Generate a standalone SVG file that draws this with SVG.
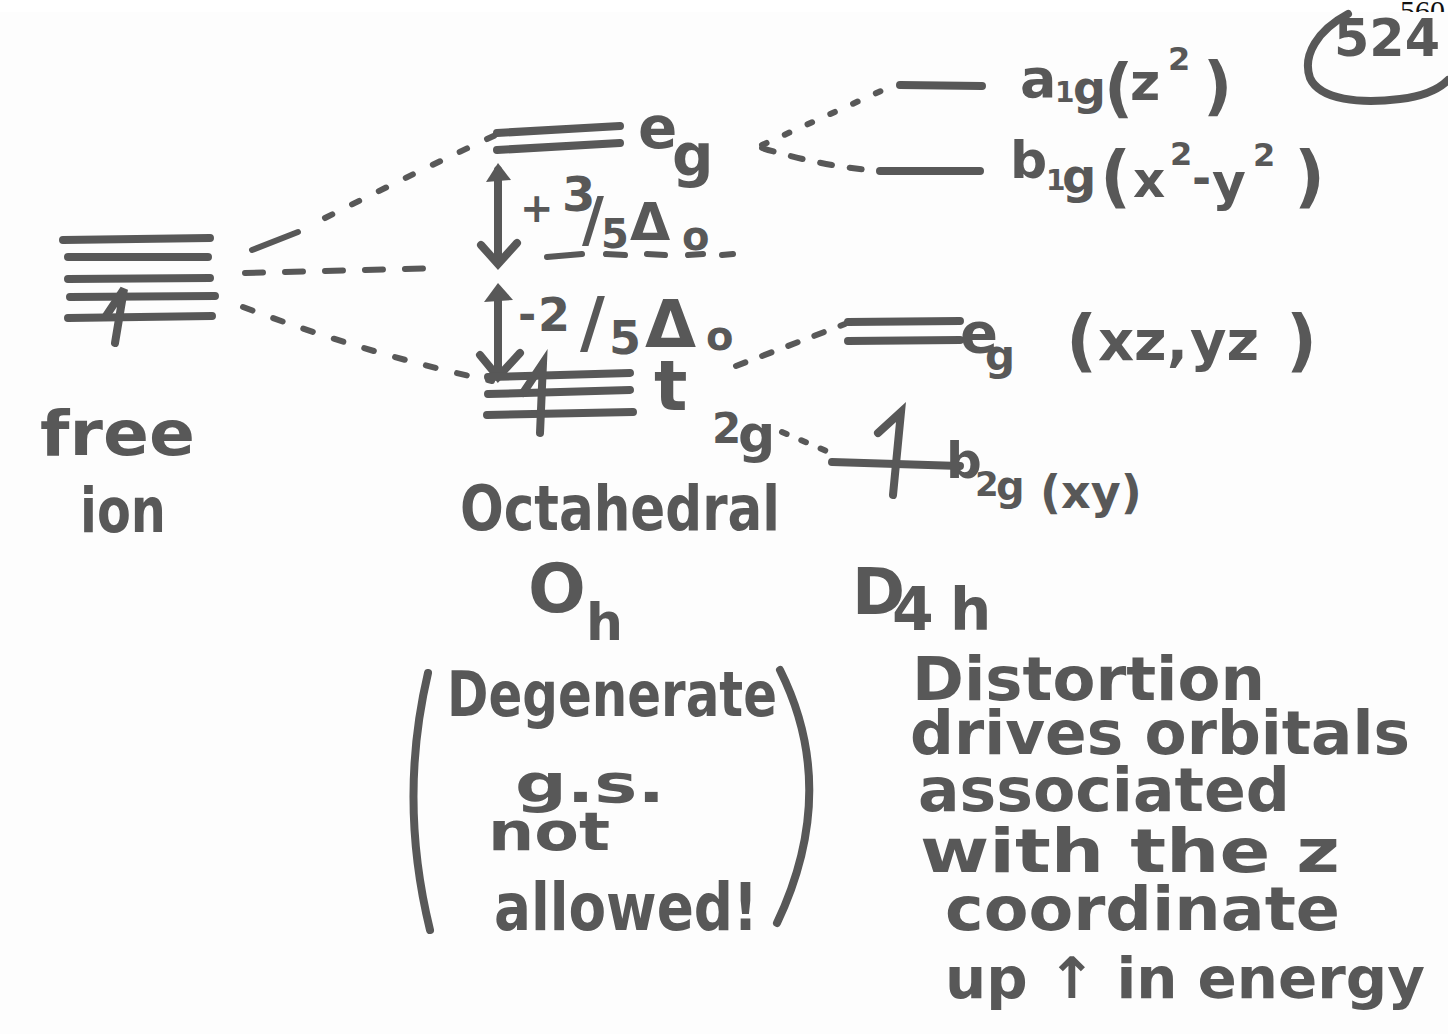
<svg xmlns="http://www.w3.org/2000/svg" width="1448" height="1034" viewBox="0 0 1448 1034">
<style>
.t{fill:#585858;font-family:"DejaVu Sans","Liberation Sans",sans-serif;font-weight:bold}
.ln{stroke:#585858;stroke-width:8;stroke-linecap:round;fill:none}
.hd{fill:#585858}
.dl{stroke:#585858;stroke-width:6;stroke-linecap:round;fill:none}
</style>
<defs>
<clipPath id="topclip"><rect x="0" y="0" width="1448" height="12"/></clipPath>
</defs>
<rect width="1448" height="1034" fill="#ffffff"/>
<text x="1400" y="21" clip-path="url(#topclip)" font-family="Liberation Serif, serif" font-size="30" fill="#111">560</text>
<rect x="0" y="12" width="1448" height="1022" fill="#fdfdfd"/>

<g id="page-number">
<path class="ln" d="M1348,14 C1318,30 1302,55 1310,78 C1320,100 1360,104 1400,99 C1425,96 1440,88 1448,80"/>
<text class="t" x="1334" y="56" font-size="52" textLength="106" lengthAdjust="spacingAndGlyphs">524</text>
</g>

<g id="connectors">
<path class="dl" d="M252,250 L298,232" />
<path class="dl" d="M325,218 Q420,170 500,133" stroke-dasharray="8 22"/>
<path class="dl" d="M245,273 L440,268" stroke-dasharray="18 22"/>
<path class="dl" d="M243,307 Q370,355 492,381" stroke-dasharray="10 22"/>
<path class="dl" d="M762,145 L892,86" stroke-dasharray="5 20"/>
<path class="dl" d="M762,148 Q820,166 878,171" stroke-dasharray="12 18"/>
<path class="dl" d="M736,366 L845,324" stroke-dasharray="10 18"/>
<path class="dl" d="M782,432 L838,456" stroke-dasharray="5 16"/>
</g>

<g id="free-ion">
<path class="ln" d="M63,240 L210,238 M68,257 L208,257 M68,279 L210,278 M70,297 L215,296 M68,318 L212,316"/>
<path class="ln" d="M106,316 L124,289 L115,343"/>
<text class="t" x="40" y="455" font-size="62" textLength="155" lengthAdjust="spacingAndGlyphs">free</text>
<text class="t" x="80" y="532" font-size="62" textLength="86" lengthAdjust="spacingAndGlyphs">ion</text>
</g>

<g id="octahedral">
<path class="ln" d="M497,133 L620,126 M497,150 L620,143"/>
<text class="t" font-size="58"><tspan x="638" y="148">e</tspan><tspan x="672" y="176" font-size="58">g</tspan></text>
<path class="ln" d="M498,170 L498,262 M481,245 L498,264 L517,243"/>
<path class="hd" d="M486,182 L498,163 L511,180 Z"/>
<path class="dl" d="M547,257 L582,254 M606,254 L625,255 M647,254 L665,255 M688,255 L703,254 M722,255 L733,254"/>
<text class="t"><tspan x="520" y="222" font-size="40">+</tspan><tspan x="562" y="211" font-size="48">3</tspan><tspan x="582" y="240" font-size="60">/</tspan><tspan x="601" y="248" font-size="40">5</tspan><tspan x="630" y="240" font-size="52">Δ</tspan><tspan x="682" y="250" font-size="40">o</tspan></text>
<path class="ln" d="M498,292 L498,372 M480,355 L498,377 L520,353"/>
<path class="hd" d="M484,302 L498,283 L513,300 Z"/>
<text class="t"><tspan x="518" y="330" font-size="44">-</tspan><tspan x="538" y="331" font-size="46">2</tspan><tspan x="580" y="346" font-size="68">/</tspan><tspan x="609" y="354" font-size="46">5</tspan><tspan x="645" y="347" font-size="66">Δ</tspan><tspan x="706" y="350" font-size="40">o</tspan></text>
<path class="ln" d="M488,377 L630,373 M488,394 L630,390 M487,415 L633,412"/>
<path class="ln" d="M523,393 L543,363 L540,433"/>
<text class="t"><tspan x="654" y="410" font-size="70">t</tspan><tspan x="712" y="443" font-size="42">2</tspan><tspan x="738" y="452" font-size="52">g</tspan></text>
<text class="t" x="460" y="530" font-size="62" textLength="320" lengthAdjust="spacingAndGlyphs">Octahedral</text>
<text class="t"><tspan x="528" y="612" font-size="68">O</tspan><tspan x="586" y="640" font-size="52">h</tspan></text>
<path class="ln" d="M428,673 Q398,800 430,930"/>
<path class="ln" d="M780,670 Q840,790 777,923"/>
<text class="t" x="447" y="716" font-size="62" textLength="330" lengthAdjust="spacingAndGlyphs">Degenerate</text>
<text class="t" x="515" y="802" font-size="54" textLength="150" lengthAdjust="spacingAndGlyphs">g.s.</text>
<text class="t" x="488" y="850" font-size="54" textLength="122" lengthAdjust="spacingAndGlyphs">not</text>
<text class="t" x="494" y="930" font-size="66" textLength="264" lengthAdjust="spacingAndGlyphs">allowed!</text>
</g>

<g id="d4h">
<path class="ln" d="M900,85 L982,86"/>
<text class="t"><tspan x="1020" y="97" font-size="54">a</tspan><tspan x="1055" y="102" font-size="28">1</tspan><tspan x="1073" y="104" font-size="46">g</tspan><tspan x="1104" y="110" font-size="64">(</tspan><tspan x="1130" y="100" font-size="52">z</tspan><tspan x="1168" y="70" font-size="32">2</tspan><tspan x="1203" y="108" font-size="64">)</tspan></text>
<path class="ln" d="M880,171 L980,171"/>
<text class="t"><tspan x="1010" y="178" font-size="52">b</tspan><tspan x="1046" y="190" font-size="28">1</tspan><tspan x="1062" y="193" font-size="48">g</tspan><tspan x="1100" y="200" font-size="68">(</tspan><tspan x="1133" y="197" font-size="50">x</tspan><tspan x="1170" y="165" font-size="32">2</tspan><tspan x="1192" y="194" font-size="46">-</tspan><tspan x="1212" y="200" font-size="52">y</tspan><tspan x="1253" y="166" font-size="32">2</tspan><tspan x="1294" y="200" font-size="68">)</tspan></text>
<path class="ln" d="M848,322 L960,321 M848,341 L960,340"/>
<text class="t"><tspan x="960" y="352" font-size="56">e</tspan><tspan x="985" y="370" font-size="42">g</tspan><tspan x="1066" y="364" font-size="68">(</tspan><tspan x="1098" y="360" font-size="56">xz,</tspan><tspan x="1190" y="360" font-size="56">yz</tspan><tspan x="1286" y="364" font-size="68">)</tspan></text>
<path class="ln" d="M832,462 L960,466"/>
<path class="ln" d="M878,433 L901,412 L893,495"/>
<text class="t"><tspan x="946" y="478" font-size="50">b</tspan><tspan x="975" y="496" font-size="34">2</tspan><tspan x="996" y="500" font-size="40">g</tspan><tspan x="1040" y="508" font-size="46">(xy)</tspan></text>
<text class="t"><tspan x="852" y="614" font-size="64">D</tspan><tspan x="892" y="630" font-size="60">4</tspan><tspan x="950" y="630" font-size="58">h</tspan></text>
<text class="t" x="912" y="700" font-size="60" textLength="353" lengthAdjust="spacingAndGlyphs">Distortion</text>
<text class="t" x="910" y="754" font-size="60" textLength="500" lengthAdjust="spacingAndGlyphs">drives orbitals</text>
<text class="t" x="918" y="811" font-size="60" textLength="372" lengthAdjust="spacingAndGlyphs">associated</text>
<text class="t" x="920" y="872" font-size="60" textLength="420" lengthAdjust="spacingAndGlyphs">with the z</text>
<text class="t" x="945" y="930" font-size="60" textLength="395" lengthAdjust="spacingAndGlyphs">coordinate</text>
<text class="t" x="945" y="998" font-size="57" textLength="480" lengthAdjust="spacingAndGlyphs">up ↑ in energy</text>
</g>
</svg>
